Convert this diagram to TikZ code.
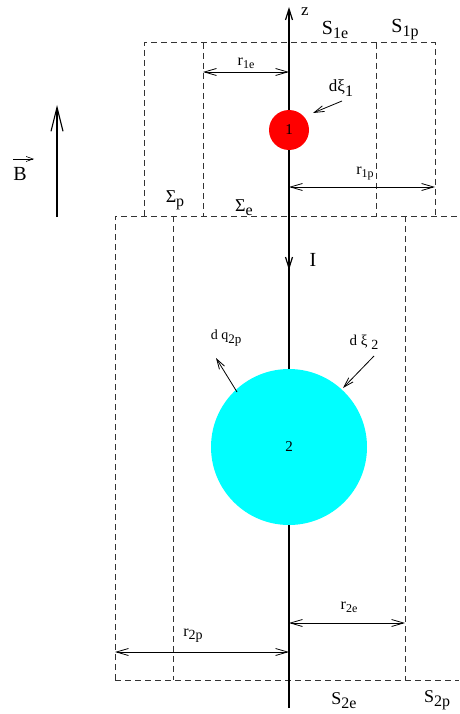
\documentclass[tikz,border=0pt]{standalone}
\usepackage{fontspec}
\setmainfont{Liberation Serif}
\usetikzlibrary{arrows.meta}
\definecolor{aqua}{RGB}{0,255,255}
\definecolor{pred}{RGB}{255,0,0}
\newcommand{\sbx}[3]{\raisebox{-#2}{\fontsize{#1}{#1}\selectfont #3}}
\newcommand{\fs}[1]{\fontsize{#1}{#1}\selectfont}
\tikzset{
  box/.style={line width=1pt, dash pattern=on 6pt off 4pt, black!80},
  axisline/.style={line width=1.2pt},
  dim/.style={line width=0.8pt, {Straight Barb[length=12pt,width=7pt]}-{Straight Barb[length=12pt,width=7pt]}},
  pointer/.style={line width=0.8pt, -{Straight Barb[length=10pt,width=6pt]}},
  lbl/.style={inner sep=0pt, anchor=center},
}
\begin{document}
\begin{tikzpicture}[x=1pt,y=-1pt]
\useasboundingbox (0,0) rectangle (459,714);
% dashed surfaces, upper part
\draw[box] (144,216) -- (144,43) -- (435,43) -- (435,216);
\draw[box] (203,43) -- (203,216);
\draw[box] (376,43) -- (376,216);
\draw[box] (115,680) -- (115,216) -- (459,216);
\draw[box] (173,216) -- (173,680);
\draw[box] (405,216) -- (405,680);
\draw[box] (115,680) -- (459,680);
% axis
\coordinate (zbot) at (289,708);
\coordinate (ztop) at (289,7);
\draw[axisline, -{Straight Barb[length=11pt,width=7pt]}] (zbot) -- (ztop);
\coordinate (iA) at (289,250);
\coordinate (iB) at (289,270);
\draw[axisline, -{Straight Barb[length=11pt,width=7pt]}] (iA) -- (iB);
% particles
\node[circle, fill=pred, draw=none, minimum size=40pt, inner sep=0pt, font=\fs{15}] (c1) at (289,130) {1};
\node[circle, fill=aqua, draw=none, minimum size=156pt, inner sep=0pt, font=\fs{15}] (c2) at (289,447) {2};
% B field
\coordinate (bB) at (57,217);
\coordinate (bT) at (57,105);
\draw[line width=1.1pt, -{Straight Barb[length=24pt,width=12pt]}] (bB) -- (bT);
\node[lbl] (Blab) at (20,174) {\fs{20}B};
\coordinate (bvA) at (13,159);
\coordinate (bvB) at (34,159);
\draw[line width=0.6pt, -{Straight Barb[length=7pt,width=5pt]}] (bvA) -- (bvB);
% labels
\node[lbl] (zlab) at (305,12) {\fs{17}z};
\node[lbl] (S1e) at (335,30) {\fs{20}S\sbx{16}{4pt}{1e}};
\node[lbl] (S1p) at (405,30) {\fs{20}S\sbx{16}{4pt}{1p}};
\node[lbl] (r1e) at (246,63) {\fs{16}r\sbx{12}{3pt}{1e}};
\node[lbl] (dxi1) at (341,88) {\fs{17}dξ\sbx{16}{5pt}{1}};
\node[lbl] (r1p) at (365,174) {\fs{16}r\sbx{12}{3pt}{1p}};
\node[lbl] (Sp) at (175,200) {\fs{18}Σ\sbx{16}{4pt}{p}};
\node[lbl] (Se) at (244,208) {\fs{18}Σ\sbx{16}{4pt}{e}};
\node[lbl] (Ilab) at (313,260) {\fs{20}I};
\node[lbl] (dq) at (226,338) {\fs{14}d q\sbx{13}{4pt}{2p}};
\node[lbl] (dxi2) at (364,342) {\fs{15}d ξ \sbx{14}{4pt}{2}};
\node[lbl] (r2e) at (349,607) {\fs{16}r\sbx{12}{3pt}{2e}};
\node[lbl] (r2p) at (193,636) {\fs{16}r\sbx{14}{3pt}{2p}};
\node[lbl] (S2e) at (344,701) {\fs{18}S\sbx{16}{4pt}{2e}};
\node[lbl] (S2p) at (437,700) {\fs{18}S\sbx{16}{4pt}{2p}};
% dimension arrows
\coordinate (r1eA) at (203,72);
\coordinate (r1eB) at (289,72);
\draw[dim] (r1eA) -- (r1eB);
\coordinate (r1pA) at (289,187);
\coordinate (r1pB) at (435,187);
\draw[dim] (r1pA) -- (r1pB);
\coordinate (r2eA) at (289,623);
\coordinate (r2eB) at (405,623);
\draw[dim] (r2eA) -- (r2eB);
\coordinate (r2pA) at (115,652);
\coordinate (r2pB) at (289,652);
\draw[dim] (r2pA) -- (r2pB);
% pointers
\coordinate (p1A) at (342,101);
\coordinate (p1B) at (313,113);
\draw[pointer] (p1A) -- (p1B);
\coordinate (p2A) at (237,392);
\coordinate (p2B) at (216,358);
\draw[pointer] (p2A) -- (p2B);
\coordinate (p3A) at (374,356);
\coordinate (p3B) at (343,388);
\draw[pointer] (p3A) -- (p3B);
\end{tikzpicture}
\end{document}
